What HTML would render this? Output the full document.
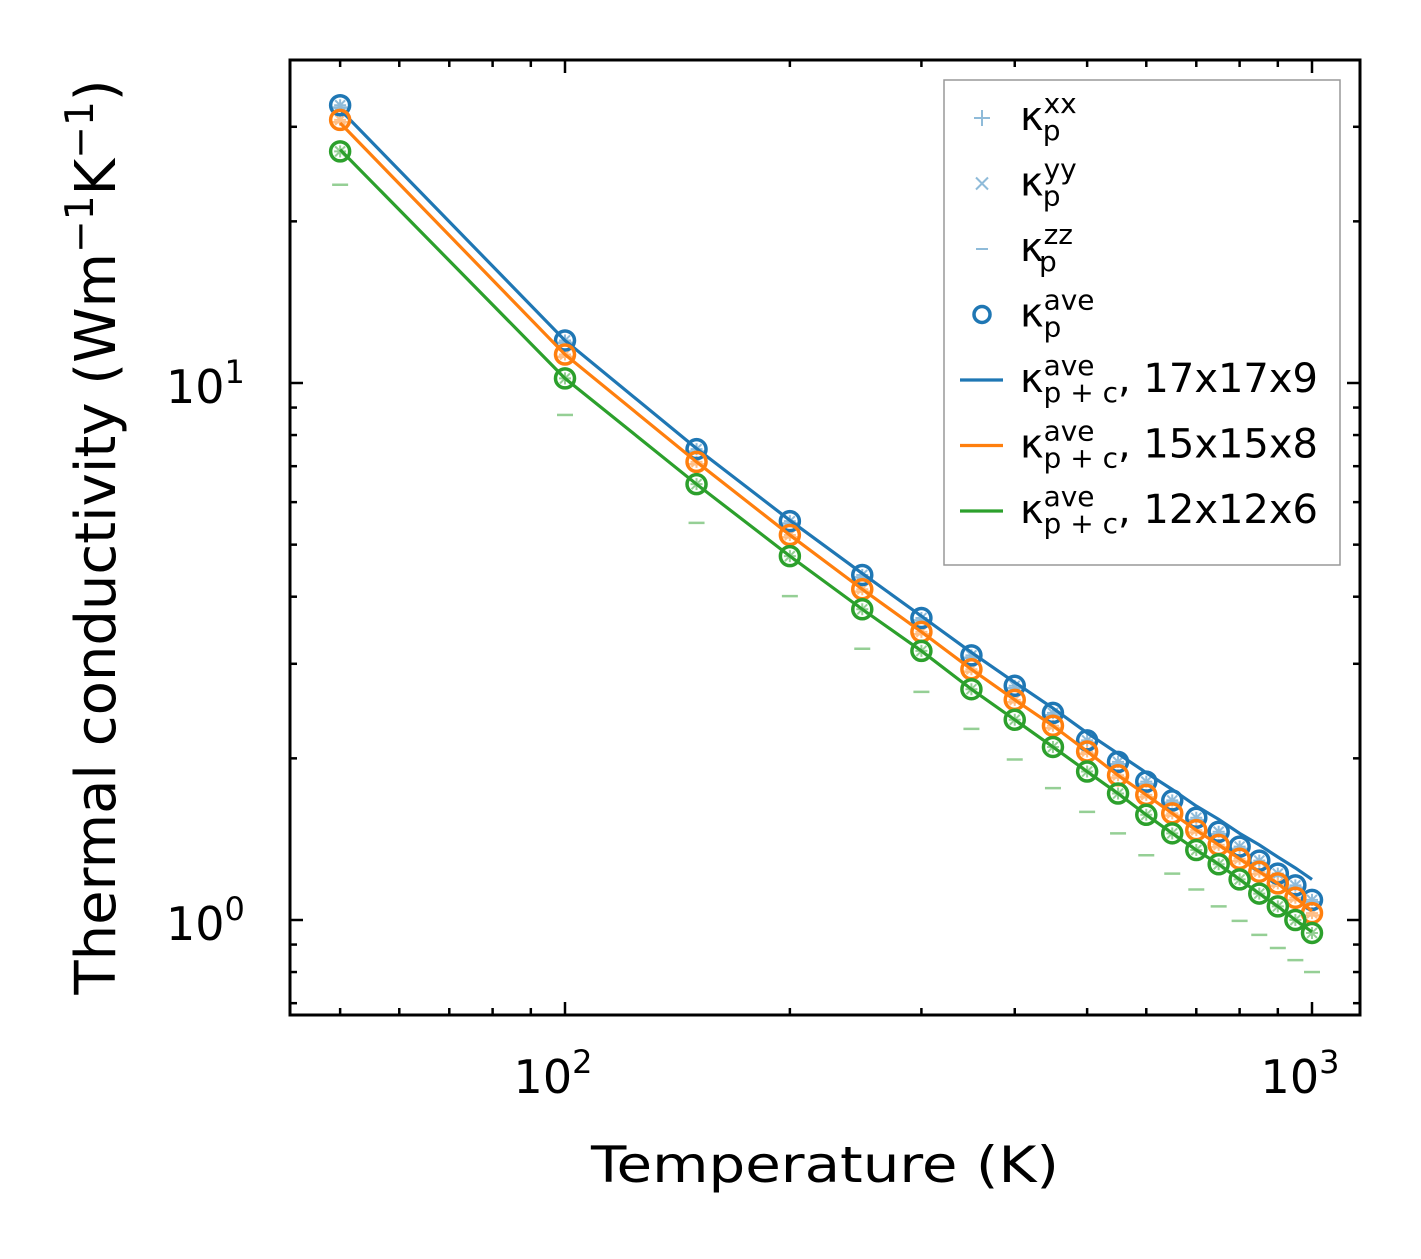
<!DOCTYPE html>
<html><head><meta charset="utf-8"><style>
html,body{margin:0;padding:0;background:#fff}
text{font-family:"DejaVu Sans","Liberation Sans",sans-serif;fill:#000}
</style></head><body>
<svg id="chart" width="1421" height="1254" xmlns="http://www.w3.org/2000/svg">
<g id="marks"></g>
<g id="axes"></g>
<g id="legend">
<rect x="944" y="80" width="396" height="485" fill="#fff" stroke="#999" stroke-width="1.5"/>
</g>
<text x="825" y="1182" font-size="50" text-anchor="middle" textLength="468" lengthAdjust="spacingAndGlyphs">Temperature (K)</text>
<text transform="translate(115,537) rotate(-90)" font-size="56" text-anchor="middle">Thermal conductivity (Wm<tspan dy="-22" font-size="39">−1</tspan><tspan dy="22">K</tspan><tspan dy="-22" font-size="39">−1</tspan><tspan dy="22">)</tspan></text>
</svg>
<script>
const temps=[50,100,150,200,250,300,350,400,450,500,550,600,650,700,750,800,850,900,950,1000];
const blueAve=[32.9,12.0,7.53,5.53,4.39,3.65,3.11,2.73,2.43,2.16,1.97,1.81,1.67,1.55,1.46,1.37,1.29,1.22,1.16,1.09];
const orangeAve=[30.9,11.3,7.13,5.21,4.13,3.44,2.93,2.57,2.30,2.06,1.86,1.71,1.58,1.47,1.38,1.30,1.23,1.17,1.10,1.03];
const greenAve=[27.0,10.2,6.48,4.76,3.79,3.17,2.69,2.36,2.10,1.89,1.72,1.57,1.45,1.35,1.27,1.19,1.12,1.06,1.00,0.946];
const blueLine=[32.3,12.0,7.55,5.55,4.42,3.68,3.15,2.77,2.48,2.23,2.04,1.88,1.75,1.63,1.54,1.45,1.38,1.31,1.25,1.19];
const orangeLine=[30.5,11.3,7.13,5.21,4.13,3.44,2.93,2.57,2.30,2.06,1.86,1.71,1.58,1.47,1.38,1.30,1.23,1.17,1.10,1.04];
const greenLine=[27.2,10.2,6.48,4.76,3.79,3.17,2.69,2.36,2.10,1.89,1.72,1.57,1.45,1.35,1.27,1.19,1.12,1.06,1.00,0.95];
const greenZZ=[23.4,8.72,5.49,4.01,3.20,2.66,2.27,1.99,1.76,1.59,1.45,1.32,1.22,1.14,1.06,0.996,0.938,0.887,0.842,0.800];
const xTickLabels=["2","3"];
const yTickLabels=["1","0"];
const NS="http://www.w3.org/2000/svg";
const X0=290,X1=1360,Y0=60,Y1=1015;
const xs=v=>565+747*(Math.log10(v)-2);
const ys=v=>920-537*Math.log10(v);
const marks=document.getElementById('marks'),axes=document.getElementById('axes'),leg=document.getElementById('legend');
function mk(tag,attrs,parent){const e=document.createElementNS(NS,tag);for(const k in attrs)e.setAttribute(k,attrs[k]);parent.appendChild(e);return e;}
const C={b:'#1f77b4',o:'#ff7f0e',g:'#2ca02c'};
const L={b:'#8fbbd9',o:'#ffbf86',g:'#95cf95'};
const sets=[['b',blueAve,blueLine],['o',orangeAve,orangeLine],['g',greenAve,greenLine]];
sets.forEach(([k,ave,line])=>{
  temps.forEach((t,i)=>{
    const v=k==='g'?greenZZ[i]:ave[i]*0.99;
    const d=mk('line',{x1:xs(t)-8,x2:xs(t)+8,y1:ys(v),y2:ys(v),stroke:L[k],'stroke-width':2.5},marks);
    
    
    const px=xs(t),py=ys(ave[i]);
    const p=mk('path',{d:`M${px-6},${py}H${px+6}M${px},${py-6}V${py+6}M${px-5},${py-5}L${px+5},${py+5}M${px-5},${py+5}L${px+5},${py-5}`,stroke:L[k],'stroke-width':2,fill:'none'},marks);
    
    
  });
});
sets.forEach(([k,ave,line])=>{
  const pl=mk('polyline',{points:temps.map((t,i)=>xs(t)+','+ys(line[i])).join(' '),fill:'none',stroke:C[k],'stroke-width':3.2},marks);
  
  
  temps.forEach((t,i)=>{
    const c=mk('circle',{cx:xs(t),cy:ys(ave[i]),r:9.5,fill:'none',stroke:C[k],'stroke-width':3.5},marks);
    
    
  });
});
const fr=mk('rect',{x:X0,y:Y0,width:X1-X0,height:Y1-Y0,fill:'none',stroke:'#000','stroke-width':3},axes);


function xt(v,len){[[Y1,-1],[Y0,1]].forEach(([y,s])=>{const l=mk('line',{x1:xs(v),x2:xs(v),y1:y,y2:y+s*len,stroke:'#000','stroke-width':2.5},axes);});}
function yt(v,len){[[X0,1],[X1,-1]].forEach(([x,s])=>{const l=mk('line',{x1:x,x2:x+s*len,y1:ys(v),y2:ys(v),stroke:'#000','stroke-width':2.5},axes);});}
[50,60,70,80,90,200,300,400,500,600,700,800,900].forEach(v=>xt(v,7));
[100,1000].forEach(v=>xt(v,13));
[0.7,0.8,0.9,2,3,4,5,6,7,8,9,20,30].forEach(v=>yt(v,7));
[1,10].forEach(v=>yt(v,13));
[[100,xTickLabels[0]],[1000,xTickLabels[1]]].forEach(([v,e])=>{
  const t=mk('text',{x:xs(v)-12,y:1093,'font-size':46,'text-anchor':'middle'},axes);
  
  
  t.innerHTML=`10<tspan dy="-20" font-size="32">${e}</tspan>`;
});
[[10,yTickLabels[0]],[1,yTickLabels[1]]].forEach(([v,e])=>{
  const t=mk('text',{x:166,y:ys(v)+20,'font-size':46},axes);
  
  
  t.innerHTML=`10<tspan dy="-20" font-size="32">${e}</tspan>`;
});
const rows=[['xx','+','b'],['yy','x','b'],['zz','-','b'],['ave','o','b'],['ave','line','b',', 17x17x9'],['ave','line','o',', 15x15x8'],['ave','line','g',', 12x12x6']];
rows.forEach((r,i)=>{
  const y=118+i*65.5;
  const [sup,m,k,suf]=r;
  if(m==='+'){const p=mk('path',{d:`M974,${y}H990M982,${y-8}V${y+8}`,stroke:L.b,'stroke-width':2},leg);}
  if(m==='x'){const p=mk('path',{d:`M976,${y-6}L988,${y+6}M976,${y+6}L988,${y-6}`,stroke:L.b,'stroke-width':2},leg);}
  if(m==='-'){const p=mk('path',{d:`M976,${y}H988`,stroke:L.b,'stroke-width':2},leg);}
  if(m==='o'){const p=mk('circle',{cx:982,cy:y,r:8,fill:'none',stroke:C.b,'stroke-width':3.5},leg);}
  if(m==='line'){const p=mk('line',{x1:960,x2:1003,y1:y,y2:y,stroke:C[k],'stroke-width':3.2},leg);}
  const sub=m==='line'?'p + c':'p';
  const t=mk('text',{x:1020,y:y+12,'font-size':40},leg);
  
  
  const supW=sup.length*17;
  const subW=m==='line'?70:17;
  t.innerHTML=`κ<tspan font-size="28" dy="-17">${sup}</tspan><tspan font-size="28" dx="${-supW}" dy="27">${sub}</tspan><tspan dy="-10" dx="${Math.max(0,supW-subW)}">${suf||''}</tspan>`;
});
</script>
</body></html>
